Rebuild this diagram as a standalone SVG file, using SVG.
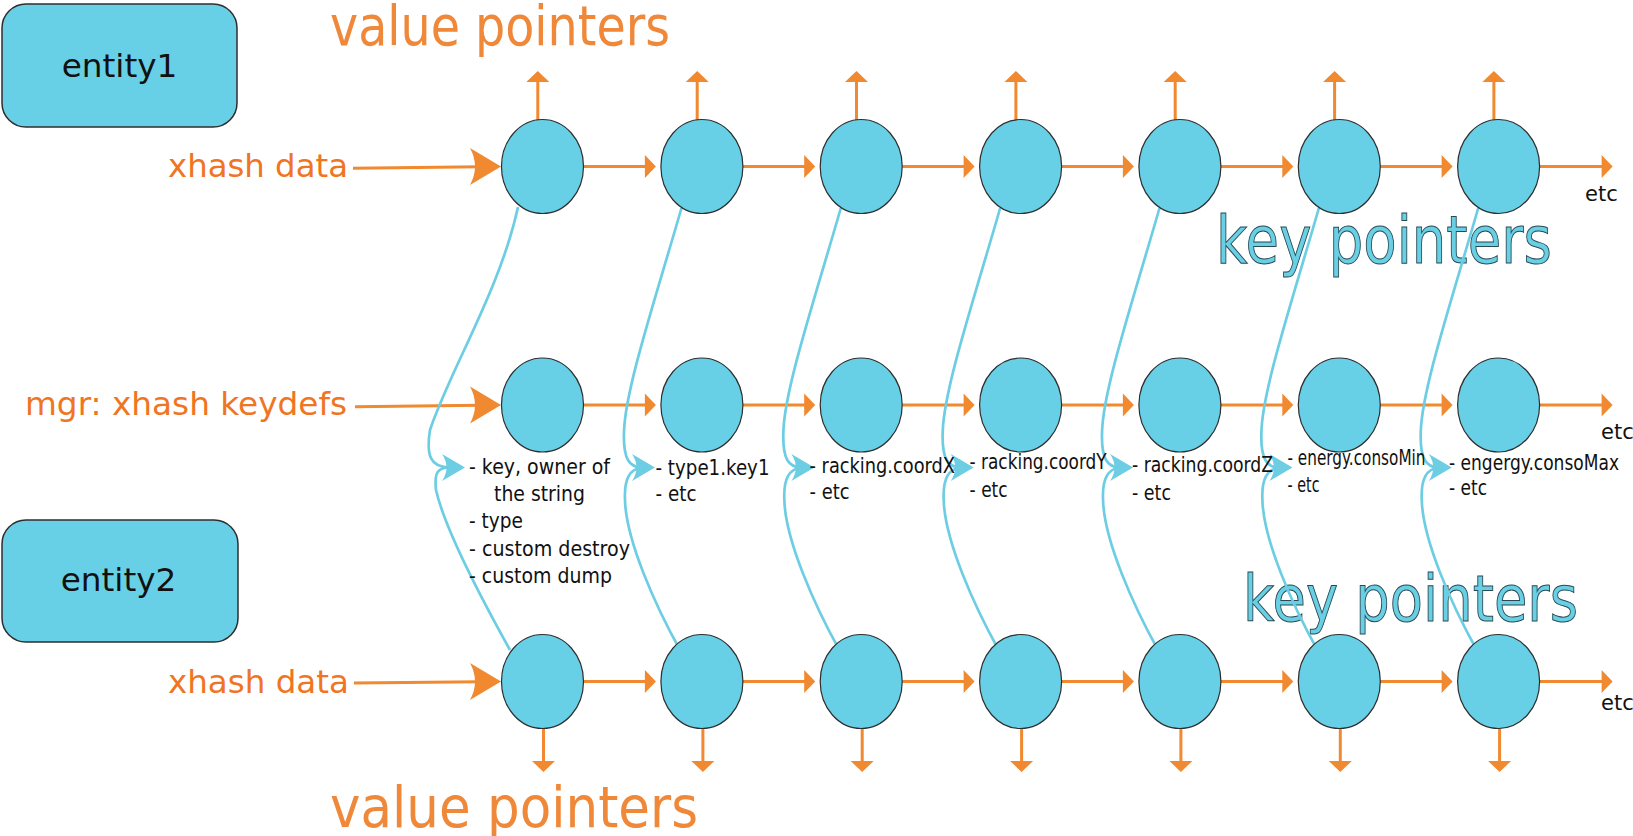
<svg xmlns="http://www.w3.org/2000/svg" xmlns:xlink="http://www.w3.org/1999/xlink" width="1633" height="836" viewBox="0 0 1633 836">
<style>
text{font-family:"DejaVu Sans","Liberation Sans",sans-serif}
.node{fill:#68d0e6;stroke:#2e2e2e;stroke-width:1.2}
.ent{fill:#68d0e6;stroke:#2e2e2e;stroke-width:1.5}
.oline{stroke:#f0892f;stroke-width:3;fill:none}
.bline{stroke:#6ccde3;stroke-width:2.7;fill:none}
.ofill{fill:#f0892f}
.bfill{fill:#6ccde3}
.lbl{fill:#f07522;font-size:32.5px}
.vp{fill:#f0883a}
.kp{fill:#68cfe5;stroke:#2a4a52;stroke-width:1}
.sm{fill:#111;font-size:20.5px}
.etc{fill:#111;font-size:21px}
.ename{fill:#111;font-size:32.7px;text-anchor:middle}
</style>
<defs>
<path id="ah" d="M0,0 L-11,-11.5 L-11,11.5 Z"/>
<path id="bah" d="M0,0 L-31,-18.5 Q-21,0 -31,18.5 Z"/>
<path id="kah" d="M0,0 L-23,-13.5 Q-14,0 -23,13.5 Z"/>
</defs>
<rect width="1633" height="836" fill="#ffffff"/>

<g id="titles">
<text class="vp" x="330" y="45" font-size="55" textLength="340" lengthAdjust="spacingAndGlyphs">value pointers</text>
<text class="vp" x="330" y="827" font-size="57.5" textLength="368" lengthAdjust="spacingAndGlyphs">value pointers</text>
<text class="kp" x="1216" y="263" font-size="65" textLength="336" lengthAdjust="spacingAndGlyphs">key pointers</text>
<text class="kp" x="1243" y="621" font-size="63.5" textLength="335" lengthAdjust="spacingAndGlyphs">key pointers</text>
<text class="lbl" x="168" y="177" textLength="180" lengthAdjust="spacingAndGlyphs">xhash data</text>
<text class="lbl" x="25" y="415" textLength="322" lengthAdjust="spacingAndGlyphs">mgr: xhash keydefs</text>
<text class="lbl" x="168" y="692.5" textLength="181" lengthAdjust="spacingAndGlyphs">xhash data</text>
<text class="etc" x="1585" y="201">etc</text>
<text class="etc" x="1601" y="438.5">etc</text>
<text class="etc" x="1601" y="710">etc</text>
</g>

<g id="entity1"><rect class="ent" x="2" y="4" width="235" height="123" rx="24"/><text class="ename" x="119.5" y="77">entity1</text></g>
<g id="entity2"><rect class="ent" x="2" y="520" width="236" height="122" rx="24"/><text class="ename" x="118.5" y="591">entity2</text></g>

<g id="connectors">
<!-- big input arrows -->
<path class="oline" d="M353,168.3 L480,166.8"/><use href="#bah" class="ofill" transform="translate(501,166.5)"/>
<path class="oline" d="M355,406.7 L480,405.2"/><use href="#bah" class="ofill" transform="translate(501,405)"/>
<path class="oline" d="M354,683 L480,681.7"/><use href="#bah" class="ofill" transform="translate(501,681.5)"/>
<!-- row 1 chain -->
<path class="oline" d="M583.5,166.5H645.9M742.9,166.5H805.2M902.2,166.5H964.6M1061.6,166.5H1123.9M1220.9,166.5H1283.3M1380.3,166.5H1442.6M1539.6,166.5H1602.6"/>
<use href="#ah" class="ofill" transform="translate(655.9,166.5)"/><use href="#ah" class="ofill" transform="translate(815.2,166.5)"/><use href="#ah" class="ofill" transform="translate(974.6,166.5)"/><use href="#ah" class="ofill" transform="translate(1133.9,166.5)"/><use href="#ah" class="ofill" transform="translate(1293.3,166.5)"/><use href="#ah" class="ofill" transform="translate(1452.6,166.5)"/><use href="#ah" class="ofill" transform="translate(1612.6,166.5)"/>
<!-- row 2 chain -->
<path class="oline" d="M583.5,405H645.9M742.9,405H805.2M902.2,405H964.6M1061.6,405H1123.9M1220.9,405H1283.3M1380.3,405H1442.6M1539.6,405H1602.6"/>
<use href="#ah" class="ofill" transform="translate(655.9,405)"/><use href="#ah" class="ofill" transform="translate(815.2,405)"/><use href="#ah" class="ofill" transform="translate(974.6,405)"/><use href="#ah" class="ofill" transform="translate(1133.9,405)"/><use href="#ah" class="ofill" transform="translate(1293.3,405)"/><use href="#ah" class="ofill" transform="translate(1452.6,405)"/><use href="#ah" class="ofill" transform="translate(1612.6,405)"/>
<!-- row 3 chain -->
<path class="oline" d="M583.5,681.5H645.9M742.9,681.5H805.2M902.2,681.5H964.6M1061.6,681.5H1123.9M1220.9,681.5H1283.3M1380.3,681.5H1442.6M1539.6,681.5H1602.6"/>
<use href="#ah" class="ofill" transform="translate(655.9,681.5)"/><use href="#ah" class="ofill" transform="translate(815.2,681.5)"/><use href="#ah" class="ofill" transform="translate(974.6,681.5)"/><use href="#ah" class="ofill" transform="translate(1133.9,681.5)"/><use href="#ah" class="ofill" transform="translate(1293.3,681.5)"/><use href="#ah" class="ofill" transform="translate(1452.6,681.5)"/><use href="#ah" class="ofill" transform="translate(1612.6,681.5)"/>
<!-- value pointers up -->
<path class="oline" d="M537.8,125V80M697.2,125V80M856.5,125V80M1015.9,125V80M1175.2,125V80M1334.6,125V80M1493.9,125V80"/>
<use href="#ah" class="ofill" transform="translate(537.8,71) rotate(-90)"/><use href="#ah" class="ofill" transform="translate(697.2,71) rotate(-90)"/><use href="#ah" class="ofill" transform="translate(856.5,71) rotate(-90)"/><use href="#ah" class="ofill" transform="translate(1015.9,71) rotate(-90)"/><use href="#ah" class="ofill" transform="translate(1175.2,71) rotate(-90)"/><use href="#ah" class="ofill" transform="translate(1334.6,71) rotate(-90)"/><use href="#ah" class="ofill" transform="translate(1493.9,71) rotate(-90)"/>
<!-- value pointers down -->
<path class="oline" d="M543.5,724V763M702.9,724V763M862.2,724V763M1021.6,724V763M1180.9,724V763M1340.3,724V763M1499.6,724V763"/>
<use href="#ah" class="ofill" transform="translate(543.5,772) rotate(90)"/><use href="#ah" class="ofill" transform="translate(702.9,772) rotate(90)"/><use href="#ah" class="ofill" transform="translate(862.2,772) rotate(90)"/><use href="#ah" class="ofill" transform="translate(1021.6,772) rotate(90)"/><use href="#ah" class="ofill" transform="translate(1180.9,772) rotate(90)"/><use href="#ah" class="ofill" transform="translate(1340.3,772) rotate(90)"/><use href="#ah" class="ofill" transform="translate(1499.6,772) rotate(90)"/>
<!-- key pointers col 1 -->
<path class="bline" d="M518,207 C500,290 450,370 430,430 C426,455 430,467.5 450,467.5"/>
<path class="bline" d="M510,650 C485,605 445,530 436,490 C434,472 438,467.5 450,467.5"/>
<use href="#kah" class="bfill" transform="translate(465,467.5)"/>
<!-- key pointers col 2..7 -->
<g id="kp2">
<path class="bline" d="M681.5,208 C655,300 625,390 624,432 C623,460 630,467.5 642,467.5"/>
<path class="bline" d="M680,650 C655,605 626,540 625,500 C624,478 630,469 642,467.5"/>
<use href="#kah" class="bfill" transform="translate(655,467.5)"/>
</g>
<use href="#kp2" transform="translate(159.35,0)"/>
<use href="#kp2" transform="translate(318.7,0)"/>
<use href="#kp2" transform="translate(478.05,0)"/>
<use href="#kp2" transform="translate(637.4,0)"/>
<use href="#kp2" transform="translate(796.75,0)"/>
</g>

<g id="row1">
<ellipse id="n1_1" class="node" cx="542.5" cy="166.5" rx="41" ry="47"/>
<ellipse id="n1_2" class="node" cx="701.9" cy="166.5" rx="41" ry="47"/>
<ellipse id="n1_3" class="node" cx="861.2" cy="166.5" rx="41" ry="47"/>
<ellipse id="n1_4" class="node" cx="1020.6" cy="166.5" rx="41" ry="47"/>
<ellipse id="n1_5" class="node" cx="1179.9" cy="166.5" rx="41" ry="47"/>
<ellipse id="n1_6" class="node" cx="1339.3" cy="166.5" rx="41" ry="47"/>
<ellipse id="n1_7" class="node" cx="1498.6" cy="166.5" rx="41" ry="47"/>
</g>
<g id="row2">
<ellipse id="n2_1" class="node" cx="542.5" cy="405" rx="41" ry="47"/>
<ellipse id="n2_2" class="node" cx="701.9" cy="405" rx="41" ry="47"/>
<ellipse id="n2_3" class="node" cx="861.2" cy="405" rx="41" ry="47"/>
<ellipse id="n2_4" class="node" cx="1020.6" cy="405" rx="41" ry="47"/>
<ellipse id="n2_5" class="node" cx="1179.9" cy="405" rx="41" ry="47"/>
<ellipse id="n2_6" class="node" cx="1339.3" cy="405" rx="41" ry="47"/>
<ellipse id="n2_7" class="node" cx="1498.6" cy="405" rx="41" ry="47"/>
</g>
<g id="row3">
<ellipse id="n3_1" class="node" cx="542.5" cy="681.5" rx="41" ry="47"/>
<ellipse id="n3_2" class="node" cx="701.9" cy="681.5" rx="41" ry="47"/>
<ellipse id="n3_3" class="node" cx="861.2" cy="681.5" rx="41" ry="47"/>
<ellipse id="n3_4" class="node" cx="1020.6" cy="681.5" rx="41" ry="47"/>
<ellipse id="n3_5" class="node" cx="1179.9" cy="681.5" rx="41" ry="47"/>
<ellipse id="n3_6" class="node" cx="1339.3" cy="681.5" rx="41" ry="47"/>
<ellipse id="n3_7" class="node" cx="1498.6" cy="681.5" rx="41" ry="47"/>
</g>

<g id="keydefs">
<text class="sm" x="469" y="473.5" textLength="141" lengthAdjust="spacingAndGlyphs">- key, owner of</text>
<text class="sm" x="494" y="501" textLength="91" lengthAdjust="spacingAndGlyphs">the string</text>
<text class="sm" x="469" y="528" textLength="54" lengthAdjust="spacingAndGlyphs">- type</text>
<text class="sm" x="469" y="556" textLength="161" lengthAdjust="spacingAndGlyphs">- custom destroy</text>
<text class="sm" x="469" y="582.5" textLength="143" lengthAdjust="spacingAndGlyphs">- custom dump</text>
<text class="sm" x="655.5" y="475" textLength="114" lengthAdjust="spacingAndGlyphs">- type1.key1</text>
<text class="sm" x="655.5" y="500.5" textLength="41" lengthAdjust="spacingAndGlyphs">- etc</text>
<text class="sm" x="809.5" y="473" textLength="145.5" lengthAdjust="spacingAndGlyphs">- racking.coordX</text>
<text class="sm" x="809.5" y="498.5" textLength="40" lengthAdjust="spacingAndGlyphs">- etc</text>
<text class="sm" x="969.6" y="468.5" font-size="19.5" textLength="137" lengthAdjust="spacingAndGlyphs">- racking.coordY</text>
<text class="sm" x="969.6" y="497" font-size="19.5" textLength="38" lengthAdjust="spacingAndGlyphs">- etc</text>
<text class="sm" x="1132" y="471.5" textLength="141" lengthAdjust="spacingAndGlyphs">- racking.coordZ</text>
<text class="sm" x="1132" y="500" textLength="39" lengthAdjust="spacingAndGlyphs">- etc</text>
<text class="sm" x="1287.5" y="465" font-size="17" textLength="138" lengthAdjust="spacingAndGlyphs">- energy.consoMin</text>
<text class="sm" x="1287.5" y="491.5" font-size="17" textLength="32" lengthAdjust="spacingAndGlyphs">- etc</text>
<text class="sm" x="1449" y="470" font-size="19.5" textLength="170" lengthAdjust="spacingAndGlyphs">- engergy.consoMax</text>
<text class="sm" x="1449" y="495" font-size="19.5" textLength="38" lengthAdjust="spacingAndGlyphs">- etc</text>
</g>
</svg>
